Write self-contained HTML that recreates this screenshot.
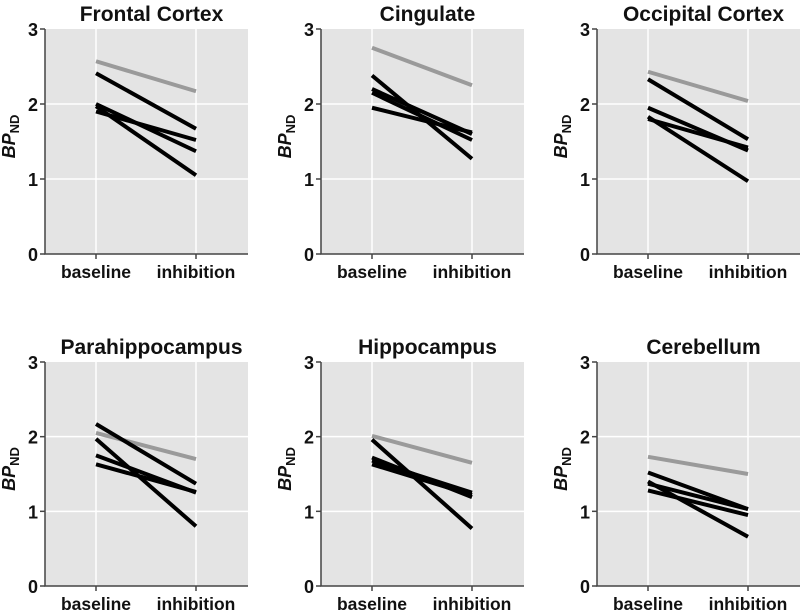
<!DOCTYPE html>
<html><head><meta charset="utf-8"><style>
body{margin:0;background:#fff;}
svg{display:block;font-family:"Liberation Sans",Arial,sans-serif;}
</style></head><body>
<svg id="c" width="800" height="613" viewBox="0 0 800 613"></svg>
<script>
const titles=["Frontal Cortex","Cingulate","Occipital Cortex","Parahippocampus","Hippocampus","Cerebellum"];
const categories=["baseline","inhibition"];
const yTicks=[0,1,2,3];
const grayBaseline=[2.57,2.75,2.43,2.05,2.01,1.73];
const grayInhibition=[2.17,2.25,2.04,1.70,1.65,1.50];
const blackBaseline=[[2.41,2.00,1.97,1.90],[2.38,2.20,2.15,1.95],[2.33,1.95,1.83,1.80],[2.17,1.97,1.75,1.63],[1.96,1.72,1.68,1.63],[1.52,1.40,1.37,1.28]];
const blackInhibition=[[1.67,1.37,1.05,1.52],[1.27,1.60,1.52,1.62],[1.53,1.38,0.97,1.42],[1.37,0.80,1.25,1.26],[0.77,1.19,1.25,1.22],[1.03,0.66,1.03,0.95]];
const NS="http://www.w3.org/2000/svg";
const svg=document.getElementById('c');
function mk(t,a,p){const e=document.createElementNS(NS,t);for(const k in a)e.setAttribute(k,a[k]);(p||svg).appendChild(e);return e;}
const colX=[45,321,597],rowY=[[29,254],[362,586]];
titles.forEach((title,i)=>{
  const x0=colX[i%3],yt=rowY[Math.floor(i/3)][0],yb=rowY[Math.floor(i/3)][1];
  const x1=x0+203;
  const ys=v=>yb-(yb-yt)*v/3;
  const xs=j=>x0+51+100*j;
  const g=mk('g',{});
  
  
  const bg=mk('rect',{x:x0,y:yt,width:x1-x0,height:yb-yt,fill:'#e4e4e4'},g);
  
  
  [1,2].forEach(v=>{const l=mk('line',{x1:x0,x2:x1,y1:ys(v),y2:ys(v),stroke:'#fff','stroke-width':1.5},g);
    });
  categories.forEach((c,j)=>{const l=mk('line',{x1:xs(j),x2:xs(j),y1:yt,y2:yb,stroke:'#fff','stroke-width':1.5},g);
    
    const tk=mk('line',{x1:xs(j),x2:xs(j),y1:yb,y2:yb+5,stroke:'#444','stroke-width':1.5},g);
    
    const tl=mk('text',{x:xs(j),y:yb+24,'text-anchor':'middle','font-size':17.5,'font-weight':'bold',fill:'#111'},g);
    tl.textContent=c;});
  yTicks.forEach(v=>{const tk=mk('line',{x1:x0-5,x2:x0,y1:ys(v),y2:ys(v),stroke:'#444','stroke-width':1.5},g);
    
    const tl=mk('text',{x:x0-7,y:ys(v)+7,'text-anchor':'end','font-size':18,'font-weight':'bold',fill:'#111'},g);
    tl.textContent=v;});
  const ax=mk('path',{d:`M${x0},${yt}V${yb}H${x1}`,fill:'none',stroke:'#444','stroke-width':1.5},g);
  
  const gl=mk('line',{x1:xs(0),y1:ys(grayBaseline[i]),x2:xs(1),y2:ys(grayInhibition[i]),stroke:'#9a9a9a','stroke-width':4},g);
  
  blackBaseline[i].forEach((b,k)=>{const l=mk('line',{x1:xs(0),y1:ys(b),x2:xs(1),y2:ys(blackInhibition[i][k]),stroke:'#000','stroke-width':4},g);
    });
  const tt=mk('text',{x:(x0+x1)/2+5,y:yt-8,'text-anchor':'middle','font-size':21,'font-weight':'bold',fill:'#111'},g);
  tt.textContent=title;
  const yl=mk('text',{transform:`translate(${x0-30},${(yt+yb)/2-5}) rotate(-90)`,'text-anchor':'middle','font-size':18,'font-weight':'bold',fill:'#111'},g);
  
  const t1=mk('tspan',{'font-style':'italic'},yl);t1.textContent='BP';
  const t2=mk('tspan',{'font-size':13,dy:4},yl);t2.textContent='ND';
});
</script>
</body></html>
